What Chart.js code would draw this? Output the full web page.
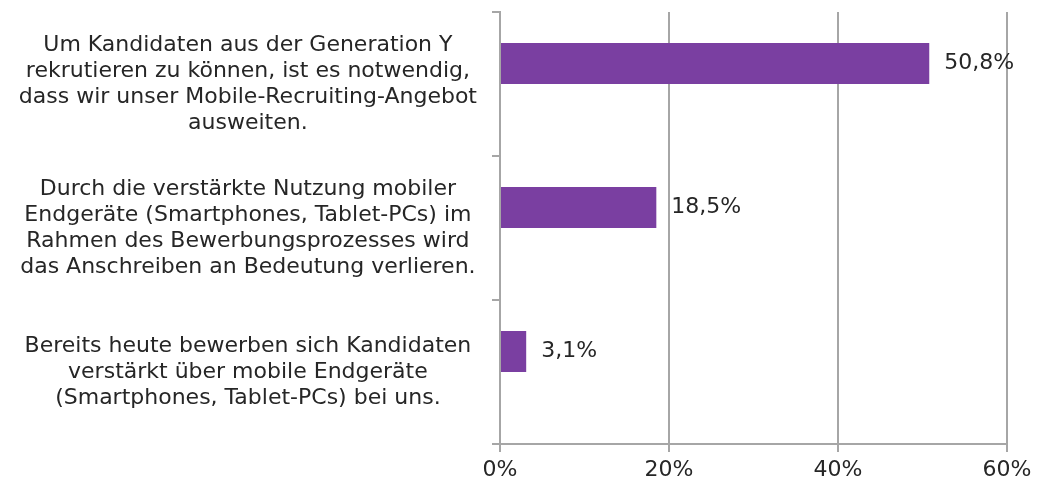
<!DOCTYPE html>
<html>
<head>
<meta charset="utf-8">
<script src="https://cdn.jsdelivr.net/npm/chart.js@4"></script>
<style>
  html, body { margin:0; padding:0; background:#fff; }
  #wrap { width:1038px; height:488px; }
</style>
</head>
<body>
<div id="wrap"><canvas id="chart"></canvas></div>
<script>
// statements (multi-line labels) and share of agreement in %
const categories = [
  ['Um Kandidaten aus der Generation Y', 'rekrutieren zu können, ist es notwendig,', 'dass wir unser Mobile-Recruiting-Angebot', 'ausweiten.'],
  ['Durch die verstärkte Nutzung mobiler', 'Endgeräte (Smartphones, Tablet-PCs) im', 'Rahmen des Bewerbungsprozesses wird', 'das Anschreiben an Bedeutung verlieren.'],
  ['Bereits heute bewerben sich Kandidaten', 'verstärkt über mobile Endgeräte', '(Smartphones, Tablet-PCs) bei uns.']
];
const values = [50.8, 18.5, 3.1];
const emptySeries = [null, null, null];
const xTicks = [0, 20, 40, 60];

const GRAY = '#a6a6a6';
const TEXT = '#262626';
const FONT = '"DejaVu Sans"';
const FSIZE = 22;

const valueLabels = {
  id: 'valueLabels',
  afterDatasetsDraw(chart) {
    const ctx = chart.ctx;
    const meta = chart.getDatasetMeta(0);
    ctx.save();
    ctx.font = FSIZE + 'px ' + FONT;
    ctx.fillStyle = TEXT;
    ctx.textAlign = 'left';
    ctx.textBaseline = 'middle';
    meta.data.forEach((bar, i) => {
      const txt = values[i].toFixed(1).replace('.', ',') + '%';
      ctx.fillText(txt, bar.x + 15, bar.y);
    });
    ctx.restore();
  }
};

new Chart(document.getElementById('chart').getContext('2d'), {
  type: 'bar',
  data: {
    labels: categories,
    datasets: [
      { data: values, backgroundColor: '#7a3fa1', categoryPercentage: 0.57, barPercentage: 1 },
      { data: emptySeries, backgroundColor: '#7a3fa1', categoryPercentage: 0.57, barPercentage: 1 }
    ]
  },
  options: {
    indexAxis: 'y',
    responsive: true,
    maintainAspectRatio: false,
    animation: false,
    layout: { padding: { top: 12, right: 31, bottom: 0, left: 0 } },
    plugins: { legend: { display: false }, tooltip: { enabled: false } },
    scales: {
      x: {
        min: 0, max: 60,
        afterBuildTicks: s => { s.ticks = xTicks.map(v => ({ value: v })); },
        afterFit: s => { s.height = 44; },
        border: { display: true, color: GRAY, width: 2 },
        grid: { color: GRAY, lineWidth: 2, tickLength: 8, drawOnChartArea: true },
        ticks: { color: TEXT, font: { family: FONT, size: FSIZE }, padding: 5, callback: v => v + '%' }
      },
      y: {
        afterFit: s => { s.width = 500; s.paddingTop = 0; s.paddingBottom = 0; },
        border: { display: true, color: GRAY, width: 2 },
        grid: { offset: true, color: GRAY, lineWidth: 2, tickLength: 8, drawOnChartArea: false },
        ticks: { color: TEXT, crossAlign: 'center', padding: 15, font: { family: FONT, size: FSIZE, lineHeight: 1.18 } }
      }
    }
  },
  plugins: [valueLabels]
});
</script>
</body>
</html>
